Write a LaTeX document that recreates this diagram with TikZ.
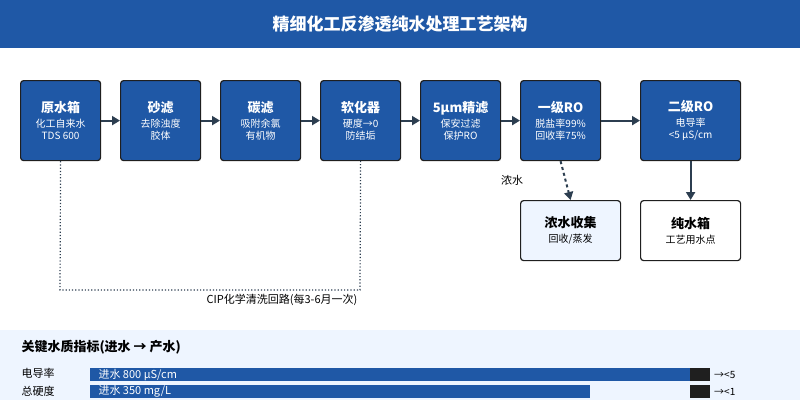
\documentclass[tikz,border=0pt]{standalone}
\usepackage{fontspec}
\setmainfont{Noto Sans CJK SC}
\usepackage{tikz}
\usetikzlibrary{arrows.meta,positioning,calc}
\definecolor{roblue}{HTML}{1F58A6}
\definecolor{rodark}{HTML}{2C3E50}
\definecolor{ropale}{HTML}{EEF5FF}
\definecolor{robar}{HTML}{1F1F1F}
\tikzset{
  stage/.style={draw=robar, line width=1.2pt, rounded corners=3pt, fill=roblue, text=white,
    minimum width=80pt, minimum height=80pt, align=center, inner sep=0pt, anchor=north west},
  sink/.style={stage, fill=ropale, text=black, minimum width=100pt, minimum height=60pt},
  flow/.style={-{Triangle[length=8pt,width=9pt]}, draw=rodark, line width=2pt},
}
\newcommand{\stagetxt}[2]{\fontsize{13}{16}\selectfont\bfseries #1\\[3pt]\fontsize{10}{15}\selectfont\mdseries #2}
\begin{document}
\begin{tikzpicture}[x=1pt,y=-1pt]
    \useasboundingbox (0,0) rectangle (800,400);
    % Title bar
    \fill[roblue] (0,0) rectangle (800,48);
    \node[text=white, font=\fontsize{17}{20}\selectfont\bfseries] (title) at (400,24) {精细化工反渗透纯水处理工艺架构};

    % Process stages
    \node[stage] (tank) at (20,80) {\stagetxt{原水箱}{化工自来水\\TDS 600}};
    \node[stage] (sand) at (120,80) {\stagetxt{砂滤}{去除浊度\\胶体}};
    \node[stage] (carbon) at (220,80) {\stagetxt{碳滤}{吸附余氯\\有机物}};
    \node[stage] (soft) at (320,80) {\stagetxt{软化器}{硬度→0\\防结垢}};
    \node[stage] (fine) at (420,80) {\stagetxt{5µm精滤}{保安过滤\\保护RO}};
    \node[stage] (ro1) at (520,80) {\stagetxt{一级RO}{脱盐率99\%\\回收率75\%}};
    \node[stage, minimum width=100pt] (ro2) at (640,80) {\stagetxt{二级RO}{电导率\\<5 µS/cm}};

    % Outlets
    \node[sink] (brine) at (520,200) {\stagetxt{浓水收集}{回收/蒸发}};
    \node[sink, fill=white] (pure) at (640,200) {\stagetxt{纯水箱}{工艺用水点}};

    % Main flow
    \draw[flow] (tank) -- (sand);
    \draw[flow] (sand) -- (carbon);
    \draw[flow] (carbon) -- (soft);
    \draw[flow] (soft) -- (fine);
    \draw[flow] (fine) -- (ro1);
    \draw[flow] (ro1) -- (ro2);
    \draw[flow, dashed] (ro1.south) -- (brine.north);
    \draw[flow] (ro2.south) -- (pure.north);
    \node[font=\fontsize{11}{13}\selectfont] (brinelbl) at (512,180) {浓水};

    % CIP loop
    \coordinate (cipa) at (60,290);
    \coordinate (cipb) at (360,290);
    \draw[rodark, line width=1.2pt, dotted] (tank.south) -- (cipa) -- (cipb) -- (soft.south);
    \node[font=\fontsize{11}{13}\selectfont] (ciplbl) at (282,300) {CIP化学清洗回路(每3-6月一次)};

    % Indicator panel
    \fill[ropale] (0,330) rectangle (800,400);
    \node[anchor=west, font=\fontsize{13}{15}\selectfont\bfseries] (kpi) at (18,347) {关键水质指标(进水 → 产水)};
    \node[anchor=west, font=\fontsize{11}{13}\selectfont] (condlbl) at (18,373) {电导率};
    \node[anchor=west, font=\fontsize{11}{13}\selectfont] (hardlbl) at (18,391) {总硬度};
    \fill[roblue] (90,368) rectangle (690,381);
    \fill[robar] (690,368) rectangle (710,381);
    \fill[roblue] (90,385) rectangle (590,398);
    \fill[robar] (690,385) rectangle (710,398);
    \node[anchor=west, text=white, font=\fontsize{11}{13}\selectfont] (condin) at (95,374.5) {进水 800 µS/cm};
    \node[anchor=west, text=white, font=\fontsize{11}{13}\selectfont] (hardin) at (95,391.5) {进水 350 mg/L};
    \node[anchor=west, font=\fontsize{10}{12}\selectfont, inner sep=1pt] (condout) at (713,374.5) {→<5};
    \node[anchor=west, font=\fontsize{10}{12}\selectfont, inner sep=1pt] (hardout) at (713,391.5) {→<1};
\end{tikzpicture}
\end{document}
